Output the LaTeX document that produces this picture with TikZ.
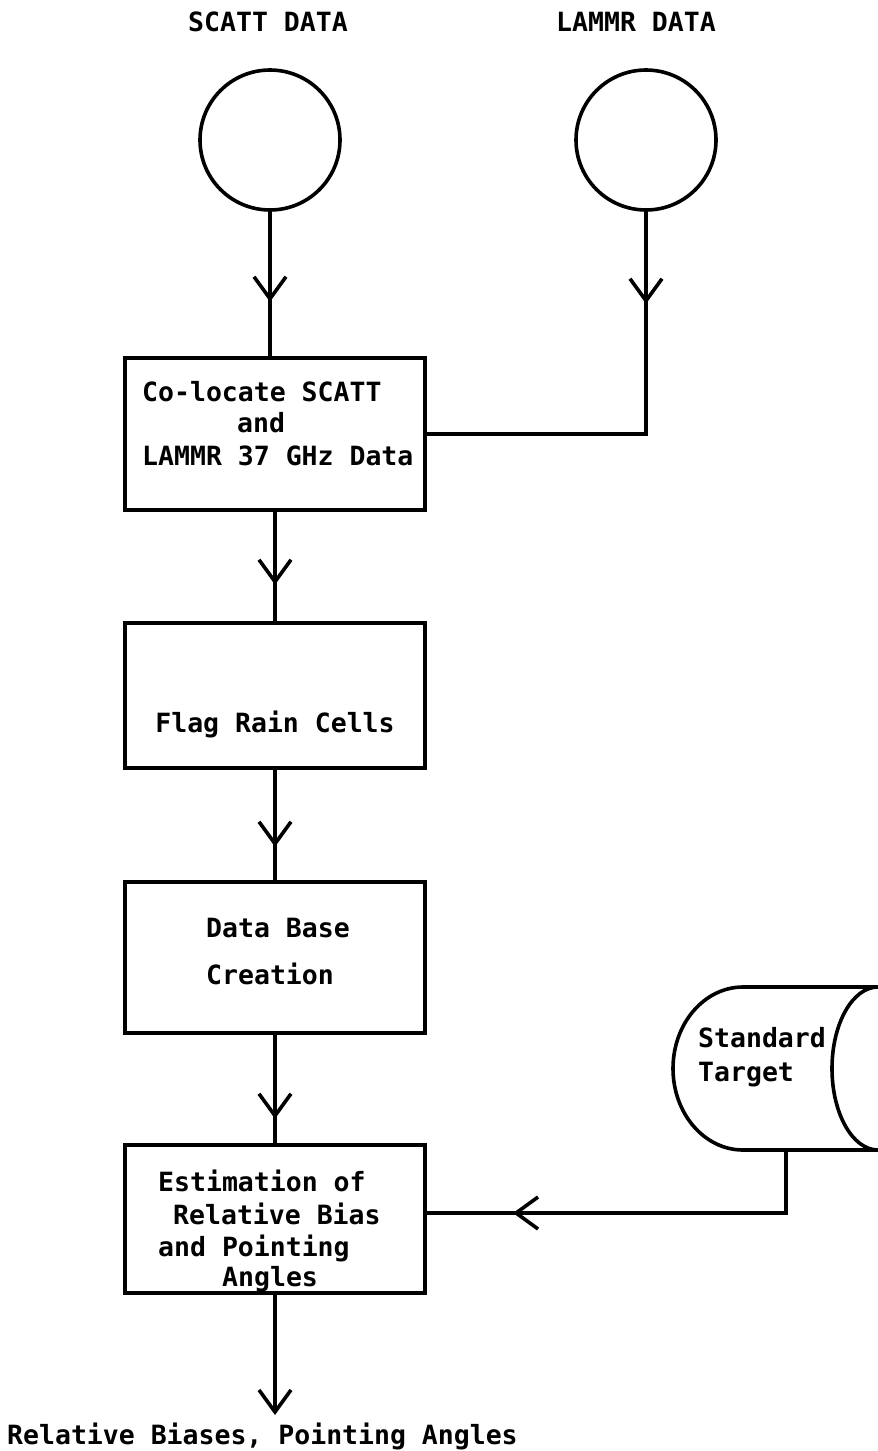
\documentclass[tikz,border=0pt]{standalone}
\usepackage{fontspec}
\newfontfamily\dmono{DejaVu Sans Mono}
\usetikzlibrary{arrows.meta,decorations.markings,calc}
\tikzset{
  conn/.style={line width=3.6pt},
  box/.style={draw, line width=3.6pt, minimum width=300pt, inner sep=0pt},
  src/.style={draw, circle, line width=3.6pt, minimum size=140pt, inner sep=0pt},
  txt/.style={font=\dmono\bfseries\fontsize{26.5pt}{30pt}\selectfont, inner sep=0pt, text height=19pt, text depth=0pt},
  vee/.tip={Straight Barb[length=22pt,width=32pt,line width=3.6pt]},
  midarrow/.style={postaction={decorate}, decoration={markings, mark=at position #1 with {\arrow{vee}}}}
}
\begin{document}
\begin{tikzpicture}[x=1pt,y=-1pt]
\fill[white] (0,0) rectangle (878,1451);
\useasboundingbox (0,0) rectangle (878,1451);

% top labels
\node[txt] (lscatt) at (268,22) {SCATT DATA};
\node[txt] (llammr) at (636,22) {LAMMR DATA};

% source circles
\node[src] (c1) at (270,140) {};
\node[src] (c2) at (646,140) {};

% process boxes
\node[box, minimum height=152pt] (b1) at (275,434) {};
\node[box, minimum height=145pt] (b2) at (275,695.5) {};
\node[box, minimum height=151pt] (b3) at (275,957.5) {};
\node[box, minimum height=148pt] (b4) at (275,1219) {};

% box texts
\node[txt, anchor=west] (t1a) at (142,392) {Co-locate SCATT};
\node[txt, anchor=west] (t1b) at (237,423) {and};
\node[txt, anchor=west] (t1c) at (142,456) {LAMMR 37 GHz Data};
\node[txt] (t2) at (275,723) {Flag Rain Cells};
\node[txt, anchor=west] (t3a) at (206,928) {Data Base};
\node[txt, anchor=west] (t3b) at (206,975) {Creation};
\node[txt, anchor=west] (t4a) at (158,1182) {Estimation of};
\node[txt, anchor=west] (t4b) at (173,1215) {Relative Bias};
\node[txt, anchor=west] (t4c) at (158,1247) {and Pointing};
\node[txt, anchor=west] (t4d) at (222,1277) {Angles};

% standard target (stored data symbol)
\draw[conn] (878,987) -- (743,987)
  arc[start angle=270, end angle=90, x radius=70, y radius=81.5]
  -- (878,1150)
  arc[start angle=90, end angle=270, x radius=46, y radius=81.5];
\coordinate (stb) at (786,1150);
\node[txt, anchor=west] (ts1) at (698,1038) {Standard};
\node[txt, anchor=west] (ts2) at (698,1072) {Target};

% output label
\node[txt, anchor=west] (out) at (7,1435) {Relative Biases, Pointing Angles};
\coordinate (outtip) at (278,1415);

% connectors
\draw[conn, midarrow=90pt] (c1.south) -- (c1.south |- b1.north);
\draw[conn, midarrow=92pt] (c2.south) |- (b1.east);
\draw[conn, midarrow=73pt] (b1.south) -- (b2.north);
\draw[conn, midarrow=77pt] (b2.south) -- (b3.north);
\draw[conn, midarrow=84pt] (b3.south) -- (b4.north);
\draw[conn, -{vee}] (b4.south) -- (b4.south |- outtip);
\draw[conn, midarrow=336pt] (stb) |- ([yshift=6pt]b4.east);
\end{tikzpicture}
\end{document}
